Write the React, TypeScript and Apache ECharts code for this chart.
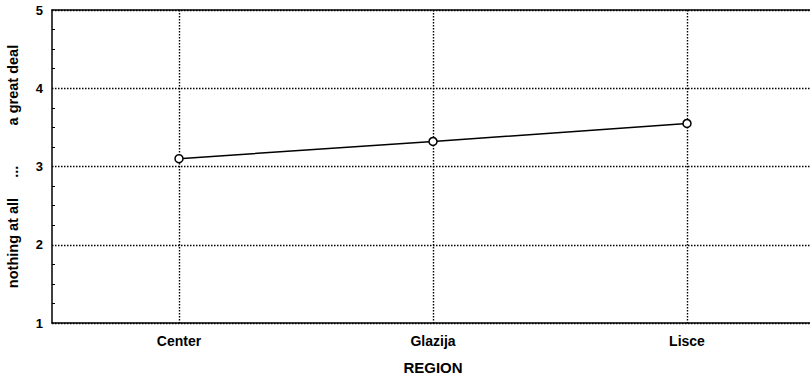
import React, { useEffect, useRef } from "react";
import * as echarts from "echarts";

const categories = ["Center", "Glazija", "Lisce"];
const values = [3.1, 3.32, 3.55];
const yTicks = [1, 2, 3, 4, 5];
const xTitle = "REGION";
const yTitle = "nothing at all     ...          a great deal";

export default function App() {
  const ref = useRef<HTMLDivElement>(null);
  useEffect(() => {
    if (!ref.current) return;
    const chart = echarts.init(ref.current, undefined, { renderer: "svg" });
    const font = "'Liberation Sans', Arial, sans-serif";
    chart.setOption({
      animation: false,
      backgroundColor: "#fff",
      grid: {
        left: 52,
        top: 10,
        width: 762,
        height: 313,
        containLabel: false,
        outerBoundsMode: "none",
        show: false,
      },
      xAxis: [
        {
          type: "category",
          data: categories,
          boundaryGap: true,
          name: xTitle,
          nameLocation: "middle",
          nameGap: 37,
          nameTextStyle: { fontFamily: font, fontWeight: "bold", fontSize: 15, color: "#000" },
          axisLine: { lineStyle: { color: "#000", width: 1.5 } },
          axisTick: { show: false },
          axisLabel: { fontFamily: font, fontWeight: "bold", fontSize: 14, color: "#000", margin: 11 },
          splitLine: {
            show: true,
            alignWithLabel: true,
            lineStyle: { color: "#000", type: [1.5, 1.5], width: 1.4 },
          },
        },
        {
          type: "category",
          data: categories,
          position: "top",
          axisLine: { show: true, lineStyle: { color: "#000", width: 1.5 } },
          axisTick: { show: false },
          axisLabel: { show: false },
          splitLine: { show: false },
        },
      ],
      yAxis: {
        type: "value",
        min: yTicks[0],
        max: yTicks[yTicks.length - 1],
        interval: 1,
        name: yTitle,
        nameLocation: "middle",
        nameGap: 32,
        nameTextStyle: { fontFamily: font, fontWeight: "bold", fontSize: 14.5, color: "#000" },
        axisLine: { show: true, lineStyle: { color: "#000", width: 1.5 } },
        axisTick: { show: false, inside: true },
        minorTick: { show: true, splitNumber: 4, length: 3, lineStyle: { color: "#000", width: 1 } },
        axisLabel: {
          fontFamily: font,
          fontWeight: "bold",
          fontSize: 13,
          color: "#000",
          margin: 9,
        },
        splitLine: {
          show: true,
          lineStyle: { color: "#000", type: [1.5, 1.5], width: 1.4 },
        },
      },
      series: [
        {
          type: "line",
          data: values,
          symbol: "circle",
          symbolSize: 8,
          lineStyle: { color: "#000", width: 1.5 },
          itemStyle: { color: "#fff", borderColor: "#000", borderWidth: 1.5 },
          z: 5,
        },
      ],
    });
    return () => chart.dispose();
  }, []);
  return <div ref={ref} style={{ width: 810, height: 377, position: "absolute", left: 0, top: 0 }} />;
}
